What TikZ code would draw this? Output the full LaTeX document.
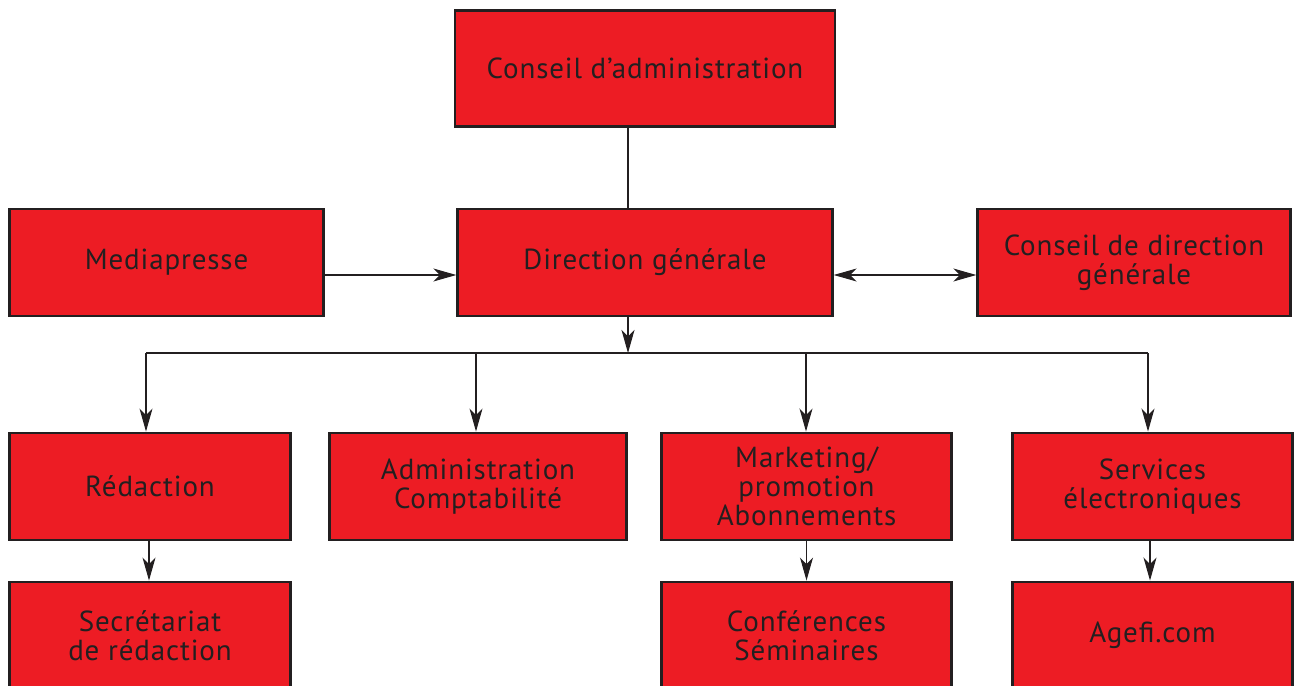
\documentclass[tikz,border=0pt]{standalone}
\usepackage{fontspec}
\setmainfont{PT Sans}[LetterSpace=3]
\usetikzlibrary{arrows.meta}
\definecolor{boxred}{HTML}{ED1C24}
\definecolor{ink}{HTML}{231F20}
\tikzset{
  unit/.style={draw=ink, line width=1.4pt, fill=boxred, text=ink, align=center,
    inner sep=0pt, minimum height=2.15cm, font=\fontsize{16.5}{16.4}\selectfont},
  link/.style={draw=ink, line width=0.6pt},
  arr/.style={link, -{Stealth[length=4.6mm, width=2.6mm, inset=1.3mm]}},
  dbl/.style={link, {Stealth[length=4.6mm, width=2.6mm, inset=1.3mm]}-{Stealth[length=4.6mm, width=2.6mm, inset=1.3mm]}},
}
\begin{document}
\begin{tikzpicture}[x=0.02cm, y=-0.02cm]
    \clip (0,0) rectangle (1299,686);
    % top
    \node[unit, minimum width=7.6cm, minimum height=2.32cm] (ca) at (645,68.5) {Conseil d’administration};
    \node[unit, minimum width=6.28cm] (mp) at (166.5,262.5) {Mediapresse};
    \node[unit, minimum width=7.5cm] (dg) at (645,262.5) {Direction générale};
    \node[unit, minimum width=6.26cm] (cdg) at (1134,262.5) {Conseil de direction\\générale};
    % services
    \node[unit, minimum width=5.62cm] (redac) at (150,486.5) {Rédaction};
    \node[unit, minimum width=5.94cm] (admin) at (478,486.5) {Administration\\Comptabilité};
    \node[unit, minimum width=5.8cm] (mkt) at (806.5,486.5) {Marketing/\\promotion\\Abonnements};
    \node[unit, minimum width=5.6cm] (serv) at (1152.5,486.5) {Services\\électroniques};
    \node[unit, minimum width=5.62cm] (sec) at (150,635.5) {Secrétariat\\de rédaction};
    \node[unit, minimum width=5.8cm] (conf) at (806.5,635.5) {Conférences\\Séminaires};
    \node[unit, minimum width=5.6cm] (agefi) at (1152.5,635.5) {Agefi.com};
    % links
    \coordinate (axis) at (628,353);
    \coordinate (side) at (0,275);
    \coordinate (b1) at (146,353);
    \coordinate (b2) at (476,353);
    \coordinate (b3) at (806,353);
    \coordinate (b4) at (1148,353);
    \draw[link] (ca.south -| axis) -- (dg.north -| axis);
    \draw[arr] (dg.south -| axis) -- (axis);
    \draw[link] (b1) -- (b4);
    \draw[arr] (mp.east |- side) -- (dg.west |- side);
    \draw[dbl] (dg.east |- side) -- (cdg.west |- side);
    \draw[arr] (b1) -- (b1 |- redac.north);
    \draw[arr] (b2) -- (b2 |- admin.north);
    \draw[arr] (b3) -- (b3 |- mkt.north);
    \draw[arr] (b4) -- (b4 |- serv.north);
    \draw[arr] ([xshift=-0.02cm]redac.south) -- ([xshift=-0.02cm]sec.north);
    \draw[arr] (mkt.south) -- (conf.north);
    \draw[arr] ([xshift=-0.05cm]serv.south) -- ([xshift=-0.05cm]agefi.north);
\end{tikzpicture}
\end{document}
